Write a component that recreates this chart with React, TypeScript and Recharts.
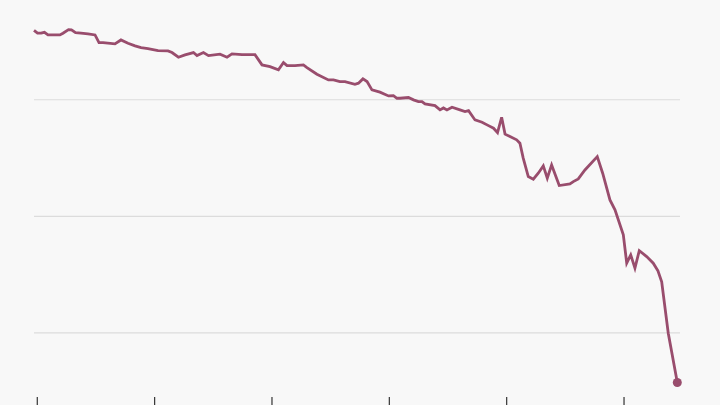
import { LineChart, Line, XAxis, YAxis, CartesianGrid } from 'recharts'

// fractional years
const dates = [
  2018.972, 2019.002, 2019.032, 2019.061, 2019.091, 2019.134, 2019.193, 2019.219, 2019.266, 2019.291,
  2019.326, 2019.372, 2019.432, 2019.492, 2019.526, 2019.56, 2019.662, 2019.713, 2019.773, 2019.833,
  2019.884, 2019.943, 2020.029, 2020.114, 2020.148, 2020.203, 2020.259, 2020.331, 2020.361, 2020.416,
  2020.459, 2020.557, 2020.617, 2020.659, 2020.744, 2020.855, 2020.915, 2020.983, 2021.055, 2021.098,
  2021.128, 2021.196, 2021.268, 2021.298, 2021.383, 2021.481, 2021.524, 2021.579, 2021.622, 2021.707,
  2021.737, 2021.775, 2021.81, 2021.852, 2021.92, 2021.993, 2022.035, 2022.065, 2022.091, 2022.163,
  2022.206, 2022.248, 2022.278, 2022.304, 2022.389, 2022.432, 2022.461, 2022.491, 2022.534, 2022.602,
  2022.645, 2022.675, 2022.73, 2022.79, 2022.845, 2022.888, 2022.922, 2022.957, 2022.986, 2023.028,
  2023.085, 2023.113, 2023.141, 2023.184, 2023.227, 2023.269, 2023.312, 2023.346, 2023.383, 2023.448,
  2023.539, 2023.568, 2023.61, 2023.667, 2023.772, 2023.818, 2023.88, 2023.923, 2023.994, 2024.023,
  2024.057, 2024.093, 2024.13, 2024.193, 2024.249, 2024.289, 2024.321, 2024.377, 2024.454,
]

const values = [
  359.5, 357.1, 357.1, 357.8, 355.6, 355.6, 355.6, 357.1, 360.2, 359.9,
  357.6, 357.1, 356.5, 355.6, 349.0, 349.0, 347.9, 351.3, 348.5, 346.2,
  344.7, 343.9, 342.2, 341.9, 340.5, 336.5, 338.5, 340.5, 337.9, 340.5,
  337.9, 339.1, 336.5, 339.3, 338.7, 338.7, 329.9, 328.4, 325.6, 331.9,
  329.3, 329.3, 329.9, 327.6, 321.9, 317.0, 317.0, 315.6, 315.6, 313.3,
  314.2, 317.9, 315.6, 308.5, 306.5, 303.3, 303.6, 301.3, 301.3, 301.9,
  299.9, 298.4, 298.4, 296.4, 295.0, 291.3, 293.0, 291.3, 293.6, 291.3,
  289.8, 290.7, 282.7, 280.7, 277.8, 275.6, 271.8, 285.0, 270.5, 268.4,
  265.6, 262.7, 249.9, 234.1, 231.9, 237.0, 243.3, 232.7, 244.1, 226.4,
  227.8, 229.8, 232.1, 239.8, 251.2, 237.0, 214.1, 205.5, 184.1, 159.8,
  166.9, 155.5, 170.6, 165.5, 159.8, 153.2, 143.8, 99.7, 57.4,
]

const yearTicks = [2019, 2020, 2021, 2022, 2023, 2024]
const gridValues = [100, 200, 300]

const data = dates.map((d, i) => ({ date: d, value: values[i] }))

const LINE_COLOR = '#994d6d'

function EndDot(props: any) {
  const { cx, cy, index } = props
  if (index !== data.length - 1) return <g key={`d${index}`} />
  return <circle key={`d${index}`} cx={cx} cy={cy} r={4.5} fill={LINE_COLOR} />
}

// tick labels sit below the visible area; only the tick marks show
const NoLabel = () => <g />

export default function App() {
  return (
    <div style={{ position: 'absolute', left: 0, top: 0, width: 720, height: 405, background: '#f8f8f8', overflow: 'hidden' }}>
      <LineChart width={720} height={405} data={data} margin={{ top: 10, right: 40, bottom: 0, left: 34 }}>
        <CartesianGrid vertical={false} horizontalValues={gridValues} stroke="#dcdcdc" strokeWidth={1.2} />
        <XAxis
          dataKey="date"
          type="number"
          domain={[2018.972, 2024.477]}
          ticks={yearTicks}
          tick={NoLabel}
          tickSize={8}
          height={8}
          axisLine={false}
          tickLine={{ stroke: '#333', strokeWidth: 1.2 }}
        />
        <YAxis hide width={0} domain={[45, 377]} ticks={gridValues} />
        <Line
          type="linear"
          dataKey="value"
          stroke={LINE_COLOR}
          strokeWidth={2.8}
          dot={EndDot}
          activeDot={false}
          isAnimationActive={false}
        />
      </LineChart>
    </div>
  )
}
